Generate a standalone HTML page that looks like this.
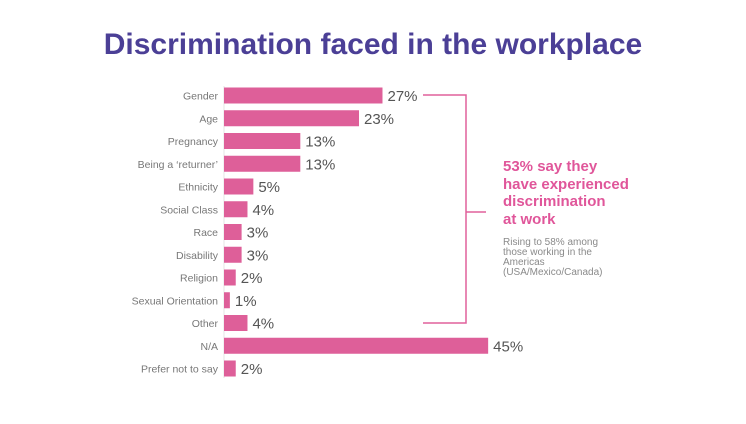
<!DOCTYPE html>
<html><head><meta charset="utf-8"><style>
body{margin:0;background:#fff;width:746px;height:419px;overflow:hidden;font-family:"Liberation Sans",sans-serif}
</style></head><body>
<svg width="746" height="419">
<text x="373" y="54" text-anchor="middle" font-size="30" font-weight="bold" fill="#4b3f96">Discrimination faced in the workplace</text>
<line x1="224" y1="86" x2="224" y2="378" stroke="#e6e6e6"/>
<g id="bars"></g>
<path d="M423 95 H466 V323 H423 M466 212 H486" fill="none" stroke="#e0609c" stroke-width="1.5"/>
<g font-size="15" font-weight="bold" fill="#e0569a">
<text x="503" y="171">53% say they</text><text x="503" y="189">have experienced</text><text x="503" y="206">discrimination</text><text x="503" y="224">at work</text></g>
<g font-size="10" fill="#8a8a8a">
<text x="503" y="245">Rising to 58% among</text><text x="503" y="255">those working in the</text><text x="503" y="265">Americas</text><text x="503" y="275">(USA/Mexico/Canada)</text></g>
</svg>
<script>
const categories=["Gender","Age","Pregnancy","Being a ‘returner’","Ethnicity","Social Class","Race","Disability","Religion","Sexual Orientation","Other","N/A","Prefer not to say"];
const values=[27,23,13,13,5,4,3,3,2,1,4,45,2];
const x0=224,sx=5.87,y0=95.5,step=22.75,bh=16;
const g=document.getElementById('bars'),ns='http://www.w3.org/2000/svg';
categories.forEach((c,i)=>{
 const yc=y0+i*step;
 const r=document.createElementNS(ns,'rect');
 r.setAttribute('x',x0);r.setAttribute('y',yc-bh/2);r.setAttribute('width',values[i]*sx);r.setAttribute('height',bh);r.setAttribute('fill','#de5f99');
 
 
 g.appendChild(r);
 const l=document.createElementNS(ns,'text');
 l.setAttribute('x',x0-6);l.setAttribute('y',yc+4);l.setAttribute('text-anchor','end');l.setAttribute('font-size','10.5');l.setAttribute('fill','#777');
 l.textContent=c;
 
 
 g.appendChild(l);
 const v=document.createElementNS(ns,'text');
 v.setAttribute('x',x0+values[i]*sx+5);v.setAttribute('y',yc+5.5);v.setAttribute('font-size','15');v.setAttribute('fill','#555');
 v.textContent=values[i]+'%';
 
 
 g.appendChild(v);
});
</script>
</body></html>
